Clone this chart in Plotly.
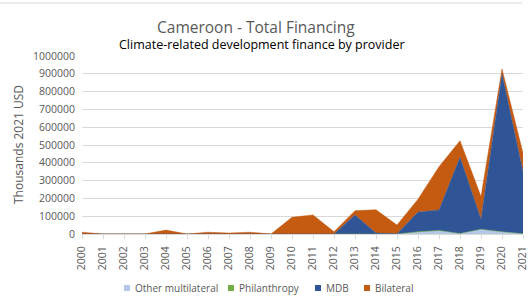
import plotly.graph_objects as go

years = list(range(2000, 2022))
other_multilateral = [0, 0, 0, 0, 0, 0, 0, 0, 0, 0, 0, 0, 0, 3000, 1000, 0, 10000, 18000, 3000, 27000, 12000, 2000]
philanthropy = [0, 0, 0, 0, 0, 0, 0, 0, 0, 0, 0, 0, 0, 0, 0, 0, 3000, 2000, 0, 0, 0, 0]
mdb = [0, 0, 0, 0, 0, 0, 0, 0, 0, 0, 0, 0, 0, 104000, 4000, 2000, 110000, 115000, 428000, 56000, 888000, 348000]
bilateral = [10000, 0, 0, 0, 22000, 0, 10000, 5000, 10000, 0, 94000, 107000, 13000, 24000, 131000, 48000, 72000, 243000, 93000, 127000, 27000, 103000]

series = [
    ("Other multilateral", other_multilateral, "#B4C7E7"),
    ("Philanthropy", philanthropy, "#70AD47"),
    ("MDB", mdb, "#2F5597"),
    ("Bilateral", bilateral, "#C55A11"),
]

W, H = 529, 296
ML, MR, MT, MB = 82, 6, 56, 62
pw, ph = W - ML - MR, H - MT - MB


def px_x(x):
    return (x - ML) / pw


def px_y(y):
    return (H - MB - y) / ph


fig = go.Figure()
for name, vals, col in series:
    fig.add_trace(go.Scatter(
        x=years, y=vals, name=name, mode="lines", stackgroup="one",
        line=dict(color=col, width=0.5), fillcolor=col, showlegend=False,
    ))

gray = "#595959"
annotations = [
    dict(text="Cameroon - Total Financing", x=px_x(256), y=px_y(27),
         font=dict(size=15.5, color=gray)),
    dict(text="Climate-related development finance by provider", x=px_x(262), y=px_y(45),
         font=dict(size=12.5, color="black")),
    dict(text="Thousands 2021 USD", x=px_x(18), y=px_y(145), textangle=-90,
         font=dict(size=12, color=gray)),
]
for a in annotations:
    a.update(xref="paper", yref="paper", showarrow=False, xanchor="center", yanchor="middle")

shapes = [dict(type="line", xref="paper", yref="paper", x0=px_x(0), x1=px_x(522),
               y0=px_y(3), y1=px_y(3), line=dict(color="#D9D9D9", width=1))]

# manual legend with small square keys
legend_pos = [124, 228, 315, 364]
for (name, vals, col), lx in zip(series, legend_pos):
    shapes.append(dict(type="rect", xref="paper", yref="paper",
                       x0=px_x(lx), x1=px_x(lx + 6), y0=px_y(285), y1=px_y(291),
                       fillcolor=col, line=dict(width=0)))
    annotations.append(dict(text=name, x=px_x(lx + 9), y=px_y(288), xref="paper", yref="paper",
                            showarrow=False, xanchor="left", yanchor="middle",
                            font=dict(size=10, color=gray)))

fig.update_layout(
    width=W, height=H,
    paper_bgcolor="white", plot_bgcolor="white",
    margin=dict(l=ML, r=MR, t=MT, b=MB, autoexpand=False),
    font=dict(family="Open Sans, Liberation Sans, sans-serif", color=gray),
    showlegend=False,
    hovermode=False,
    annotations=annotations,
    shapes=shapes,
)
fig.update_xaxes(
    range=[2000, 2021], tickvals=years, ticktext=[str(y) for y in years],
    tickangle=-90, tickfont=dict(size=10.5, color=gray), automargin=False,
    ticklabeloverflow="allow", ticklabelstandoff=3,
    showgrid=False, showline=True, linecolor="#D9D9D9", ticks="outside",
    tickcolor="#D9D9D9", ticklen=4, zeroline=False,
)
fig.update_yaxes(
    range=[0, 1000000], dtick=100000, tickformat="d", automargin=False,
    tickfont=dict(size=10.5, color=gray), ticklabelstandoff=6,
    showgrid=True, gridcolor="#D9D9D9", zeroline=False,
)
fig.write_html("out.html", config={"displayModeBar": False},
               post_script="document.body.style.margin='0px';")
